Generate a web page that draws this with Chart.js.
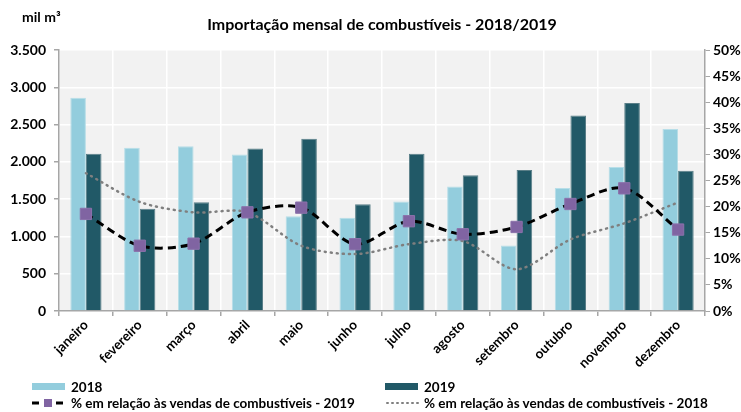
<!DOCTYPE html>
<html>
<head>
<meta charset="utf-8">
<script src="https://cdn.jsdelivr.net/npm/chart.js@4.4.0/dist/chart.umd.min.js"></script>
<style>
  body { margin: 0; background: #fff; font-family: Lato, sans-serif; }
  #wrap { position: relative; width: 741px; height: 412px; }
  #legend { position: absolute; left: 0; top: 377px; width: 741px; height: 35px; font-size: 13.5px; font-weight: bold; color: #000; }
  .item { position: absolute; display: flex; align-items: center; white-space: nowrap; height: 16px; }
  .item svg { margin-right: 3px; }
</style>
</head>
<body>
<div id="wrap">
  <canvas id="chart" width="741" height="412"></canvas>
  <div id="legend"></div>
</div>
<script>
// meses
const months = ['janeiro', 'fevereiro', 'março', 'abril', 'maio', 'junho',
  'julho', 'agosto', 'setembro', 'outubro', 'novembro', 'dezembro'];

// importação em mil m3
const imp2018 = [2860, 2190, 2210, 2100, 1270, 1250, 1470, 1670, 880, 1650, 1930, 2440];
const imp2019 = [2110, 1370, 1460, 2180, 2310, 1430, 2110, 1820, 1890, 2620, 2790, 1880];

// % em relação às vendas
const pct2019 = [18.6, 12.5, 12.9, 18.9, 19.8, 12.8, 17.2, 14.7, 16.1, 20.5, 23.5, 15.6];
const pct2018 = [26.4, 20.9, 18.9, 18.9, 12.5, 10.9, 12.8, 13.4, 8.0, 13.7, 16.8, 20.8];

const titleText = 'Importação mensal de combustíveis - 2018/2019';
const axisGray = '#A6A6A6';

function fmtThousands(v) {
  return String(v).replace(/\B(?=(\d{3})+(?!\d))/g, '.');
}

// fundo cinza da área do gráfico + título + unidade
const plotBg = {
  id: 'plotBg',
  beforeDraw(chart) {
    const { ctx, chartArea: a } = chart;
    ctx.save();
    ctx.fillStyle = '#F2F2F2';
    ctx.fillRect(a.left, a.top, a.right - a.left, a.bottom - a.top);
    ctx.fillStyle = '#000';
    ctx.textBaseline = 'middle';
    ctx.font = 'bold 14px Lato';
    ctx.fillText('mil m³', 22, 17);
    ctx.textAlign = 'center';
    ctx.font = 'bold 16px Lato';
    ctx.fillText(titleText, (a.left + a.right) / 2, 25);
    ctx.restore();
  }
};

const ctx = document.getElementById('chart').getContext('2d');
const chart = new Chart(ctx, {
  type: 'bar',
  data: {
    labels: months,
    datasets: [
      {
        label: '2018',
        data: imp2018,
        backgroundColor: '#93CDDD',
        borderColor: '#B7DEE8',
        borderWidth: 1,
        yAxisID: 'y',
        order: 2,
        categoryPercentage: 0.58,
        barPercentage: 1
      },
      {
        label: '2019',
        data: imp2019,
        backgroundColor: '#215967',
        borderColor: '#5A7F88',
        borderWidth: 1,
        yAxisID: 'y',
        order: 3,
        categoryPercentage: 0.58,
        barPercentage: 1
      },
      {
        type: 'line',
        label: '% em relação às vendas de combustíveis - 2019',
        data: pct2019,
        yAxisID: 'y1',
        borderColor: '#000',
        borderWidth: 3,
        borderDash: [8, 5],
        tension: 0.3,
        pointStyle: 'rect',
        pointRadius: 8,
        pointBackgroundColor: '#8064A2',
        pointBorderColor: '#8B72AB',
        pointBorderWidth: 1,
        order: 0
      },
      {
        type: 'line',
        label: '% em relação às vendas de combustíveis - 2018',
        data: pct2018,
        yAxisID: 'y1',
        borderColor: '#7F7F7F',
        borderWidth: 2.5,
        borderDash: [1, 5],
        borderCapStyle: 'round',
        tension: 0.3,
        pointRadius: 0,
        order: 1
      }
    ]
  },
  options: {
    responsive: false,
    animation: false,
    layout: { padding: { left: 0, right: 0, top: 50, bottom: 40 } },
    plugins: {
      legend: { display: false },
      tooltip: { enabled: false }
    },
    scales: {
      x: {
        grid: { color: '#fff', lineWidth: 1.5, tickColor: axisGray, tickLength: 5 },
        border: { color: axisGray, width: 1.5 },
        ticks: {
          color: '#000',
          font: { family: 'Lato', size: 13.5, weight: 'bold' },
          minRotation: 45, maxRotation: 45, padding: 1
        },
        afterFit: s => { s.height = 61; }
      },
      y: {
        position: 'left',
        min: 0, max: 3500,
        grid: { color: '#fff', lineWidth: 1.5, tickColor: axisGray, tickLength: 5 },
        border: { color: axisGray, width: 1.5 },
        ticks: {
          stepSize: 500,
          color: '#000',
          font: { family: 'Lato', size: 14, weight: 'bold' },
          padding: 8,
          callback: v => fmtThousands(v)
        },
        afterFit: s => { s.width = 59; }
      },
      y1: {
        position: 'right',
        min: 0, max: 50,
        grid: { drawOnChartArea: false, tickColor: axisGray, tickLength: 5 },
        border: { color: axisGray, width: 1.5 },
        ticks: {
          stepSize: 5,
          color: '#000',
          font: { family: 'Lato', size: 14, weight: 'bold' },
          padding: 3,
          callback: v => v + '%'
        },
        afterFit: s => { s.width = 36; }
      }
    }
  },
  plugins: [plotBg]
});

// legenda em duas colunas
const swatches = [
  '<svg width="36" height="12"><rect x="0" y="2" width="33" height="7" fill="#93CDDD"/></svg>',
  '<svg width="36" height="12"><rect x="0" y="2" width="33" height="7" fill="#215967"/></svg>',
  '<svg width="36" height="12"><line x1="0" y1="6" x2="34" y2="6" stroke="#000" stroke-width="3" stroke-dasharray="7,5"/><rect x="12" y="2" width="8" height="8" fill="#8064A2"/></svg>',
  '<svg width="36" height="12"><line x1="2" y1="6" x2="34" y2="6" stroke="#7F7F7F" stroke-width="2" stroke-dasharray="1,4" stroke-linecap="round"/></svg>'
];
const pos = [[32, 2], [385, 2], [32, 18], [385, 18]];
const legendEl = document.getElementById('legend');
chart.data.datasets.forEach((ds, i) => {
  const d = document.createElement('div');
  d.className = 'item';
  d.style.left = pos[i][0] + 'px';
  d.style.top = pos[i][1] + 'px';
  d.innerHTML = swatches[i] + '<span>' + ds.label + '</span>';
  legendEl.appendChild(d);
});
</script>
</body>
</html>
